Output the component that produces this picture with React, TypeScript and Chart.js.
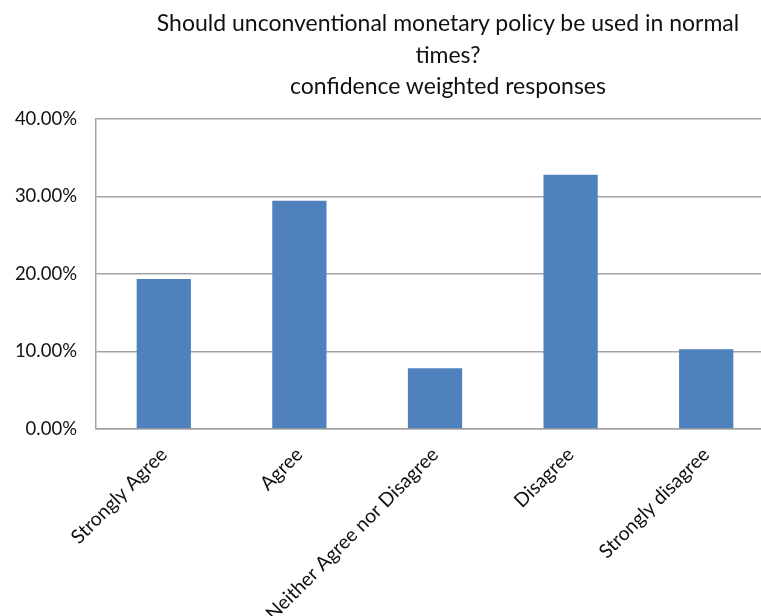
import { useEffect, useRef } from "react";
import { Chart, registerables } from "chart.js";

Chart.register(...registerables);

// Survey question, split into the lines it is shown on
const titleLines = [
  "Should unconventional monetary policy be used in normal",
  "times?",
  "confidence weighted responses",
];

// Answer categories along the x axis
const categories = [
  "Strongly Agree",
  "Agree",
  "Neither Agree nor Disagree",
  "Disagree",
  "Strongly disagree",
];

// Confidence-weighted share of responses, in percent
const shares = [19.35, 29.45, 7.85, 32.8, 10.3];

// Percent axis range and step
const yMin = 0;
const yMax = 40;
const yStep = 10;

const FONT = "Lato, 'Open Sans', 'DejaVu Sans', sans-serif";
const TEXT = "#111111";
const GRID = "#a3a3a3";
const BAR = "#4f81bd";

export default function App() {
  const canvasRef = useRef<HTMLCanvasElement | null>(null);

  useEffect(() => {
    let chart: Chart | null = null;
    let cancelled = false;

    const build = () => {
      if (cancelled || !canvasRef.current) return;
      chart = new Chart(canvasRef.current, {
        type: "bar",
        data: {
          labels: categories,
          datasets: [
            {
              data: shares,
              backgroundColor: BAR,
              borderWidth: 0,
              barPercentage: 0.4,
              categoryPercentage: 1.0,
            },
          ],
        },
        options: {
          responsive: false,
          animation: false,
          layout: { padding: { top: 119, right: 26, bottom: 0, left: 0 } },
          plugins: {
            legend: { display: false },
            title: { display: false },
            tooltip: { enabled: false },
          },
          scales: {
            x: {
              grid: { display: false, drawTicks: false },
              border: { display: true, color: GRID, width: 1.5 },
              ticks: {
                autoSkip: false,
                maxRotation: 45,
                minRotation: 45,
                padding: 14,
                color: TEXT,
                font: { family: FONT, size: 19.5 },
              },
              afterFit: (scale: any) => {
                scale.height = 187;
              },
            },
            y: {
              min: yMin,
              max: yMax,
              grid: { color: GRID, lineWidth: 1.5, drawTicks: false },
              border: { display: true, color: GRID, width: 1.5 },
              ticks: {
                stepSize: yStep,
                padding: 19,
                color: TEXT,
                font: { family: FONT, size: 18.5 },
                callback: (v: any) => Number(v).toFixed(2) + "%",
              },
              afterFit: (scale: any) => {
                scale.width = 96;
              },
            },
          },
        },
      });
    };

    const fonts = (document as any).fonts;
    if (fonts && fonts.load) {
      Promise.all([fonts.load("19px Lato"), fonts.load("23px Lato")])
        .catch(() => undefined)
        .then(build);
    } else {
      build();
    }

    return () => {
      cancelled = true;
      if (chart) chart.destroy();
    };
  }, []);

  return (
    <div
      style={{
        position: "fixed",
        left: 0,
        top: 0,
        width: 761,
        height: 616,
        overflow: "hidden",
        background: "#ffffff",
      }}
    >
      <canvas
        ref={canvasRef}
        width={800}
        height={616}
        style={{ position: "absolute", left: 0, top: 0, width: 800, height: 616 }}
      />
      <div
        style={{
          position: "absolute",
          left: 0,
          top: 7,
          width: 896,
          textAlign: "center",
          fontFamily: FONT,
          fontSize: 23,
          lineHeight: "31.5px",
          color: TEXT,
          whiteSpace: "nowrap",
        }}
      >
        {titleLines.map((line) => (
          <div key={line}>{line}</div>
        ))}
      </div>
    </div>
  );
}
